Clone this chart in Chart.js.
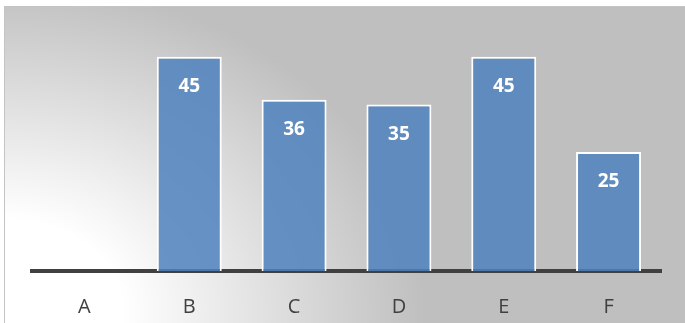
<!DOCTYPE html>
<html>
<head>
<meta charset="utf-8">
<script src="https://cdn.jsdelivr.net/npm/chart.js@4"></script>
<style>
  body { margin: 0; background: #fff; }
  #bg {
    position: absolute; left: 4px; top: 6px; width: 681px; height: 317px;
    border-left: 1px solid #c4c4c4; border-top: 1px solid #c4c4c4;
    background: radial-gradient(ellipse 420px 330px at 0px 305px, #ffffff 0%, #ffffff 28%, #bfbfbf 100%);
  }
  #wrap { position: absolute; left: 0; top: 0; width: 685px; height: 323px; }
</style>
</head>
<body>
<div id="bg"></div>
<div id="wrap"><canvas id="grafico"></canvas></div>
<script>
// dados do gráfico
const categorias = ["A", "B", "C", "D", "E", "F"];
const valores = [0, 45, 36, 35, 45, 25];
const eixoMax = 50;

// rótulos brancos dentro das barras
const rotulosBarras = {
  id: "rotulosBarras",
  afterDatasetsDraw(chart) {
    const ctx = chart.ctx;
    const meta = chart.getDatasetMeta(0);
    ctx.save();
    ctx.fillStyle = "#ffffff";
    ctx.font = "bold 19px 'Open Sans'";
    ctx.textAlign = "center";
    ctx.textBaseline = "middle";
    meta.data.forEach((bar, i) => {
      if (!valores[i]) return;
      ctx.fillText(String(valores[i]), bar.x, bar.y + 30);
    });
    ctx.restore();
  },
};

new Chart(document.getElementById("grafico"), {
  type: "bar",
  data: {
    labels: categorias,
    datasets: [
      {
        data: valores,
        backgroundColor: "rgba(79,129,189,0.85)",
        borderColor: "#ffffff",
        borderWidth: 2,
        borderSkipped: "bottom",
        categoryPercentage: 1,
        barPercentage: 0.62,
      },
    ],
  },
  options: {
    responsive: true,
    maintainAspectRatio: false,
    animation: false,
    layout: { padding: { left: 32, right: 24, top: 33, bottom: 0 } },
    plugins: { legend: { display: false }, tooltip: { enabled: false } },
    scales: {
      x: {
        z: 1,
        grid: { display: false, drawTicks: false },
        border: { display: true, color: "#404040", width: 4 },
        ticks: {
          color: "#404040",
          font: { family: "'Open Sans'", size: 20 },
          padding: 24,
        },
        afterFit(scale) { scale.height = 52; },
      },
      y: { display: false, min: 0, max: eixoMax },
    },
  },
  plugins: [rotulosBarras],
});
</script>
</body>
</html>
